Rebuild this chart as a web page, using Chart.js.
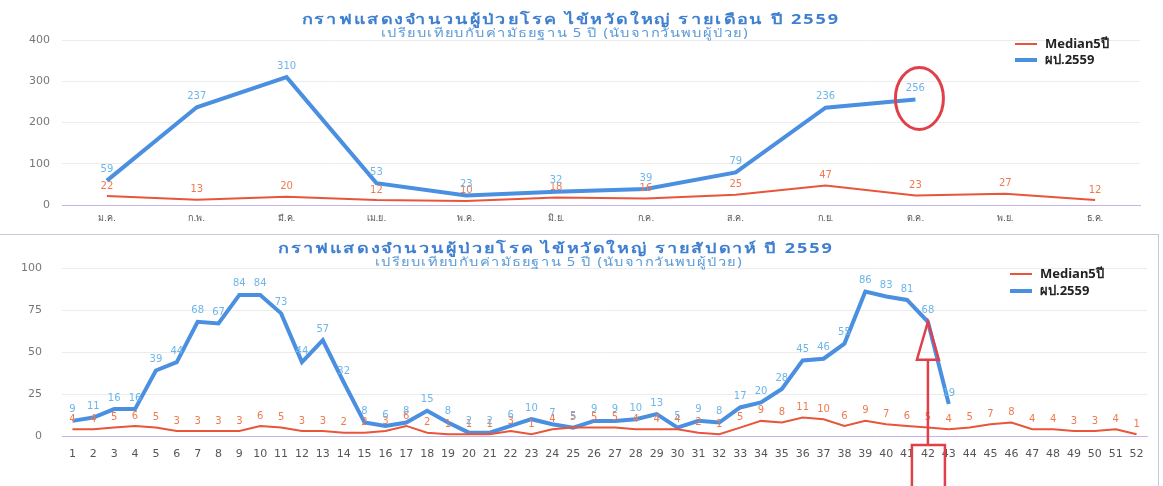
<!DOCTYPE html>
<html><head><meta charset="utf-8">
<script src="https://cdn.jsdelivr.net/npm/chart.js@4.4.1/dist/chart.umd.min.js"></script>
<style>
html,body{margin:0;padding:0;background:#fff;width:1163px;height:486px;overflow:hidden;font-family:"Noto Sans","DejaVu Sans",sans-serif;}
canvas{position:absolute;left:0;}
#c1{top:0;} #c2{top:232px;}
.title{position:absolute;text-align:center;color:#3f7fd0;font-weight:bold;font-size:14px;letter-spacing:1.5px;white-space:nowrap;transform:scaleX(1.29);}
.sub{position:absolute;text-align:center;color:#5a9ad8;font-size:12px;letter-spacing:1px;white-space:nowrap;transform:scaleX(1.22);}
.leg{position:absolute;font-size:13px;font-weight:bold;color:#222;white-space:nowrap;}
.leg span{display:inline-block;width:22px;vertical-align:middle;margin-right:8px;}
#frame{position:absolute;left:0;top:234px;width:1158px;height:260px;border-top:1px solid #c8c8d8;border-right:1px solid #c8c8d8;}
</style></head>
<body>
<div id="frame"></div>
<canvas id="c1" width="1163" height="232"></canvas>
<canvas id="c2" width="1163" height="254"></canvas>
<div class="title" style="left:0;width:1142px;top:8px;">กราฟแสดงจำนวนผู้ป่วยโรค ไข้หวัดใหญ่ รายเดือน ปี 2559</div>
<div class="sub" style="left:0;width:1130px;top:23px;">เปรียบเทียบกับค่ามัธยฐาน 5 ปี (นับจากวันพบผู้ป่วย)</div>
<div class="leg" style="left:1015px;top:33px;"><span style="border-top:2px solid #e8553a;"></span>Median5ปี</div>
<div class="leg" style="left:1015px;top:49px;"><span style="border-top:4px solid #4a8fe0;"></span>ผป.2559</div>
<div class="title" style="left:0;width:1112px;top:237px;">กราฟแสดงจำนวนผู้ป่วยโรค ไข้หวัดใหญ่ รายสัปดาห์ ปี 2559</div>
<div class="sub" style="left:0;width:1118px;top:252px;">เปรียบเทียบกับค่ามัธยฐาน 5 ปี (นับจากวันพบผู้ป่วย)</div>
<div class="leg" style="left:1010px;top:263px;"><span style="border-top:2px solid #e8553a;"></span>Median5ปี</div>
<div class="leg" style="left:1010px;top:280px;"><span style="border-top:4px solid #4a8fe0;"></span>ผป.2559</div>
<script>
// ---- data ----
const monthLabels = ['ม.ค.','ก.พ.','มี.ค.','เม.ย.','พ.ค.','มิ.ย.','ก.ค.','ส.ค.','ก.ย.','ต.ค.','พ.ย.','ธ.ค.'];
const medianMonthly = [22,13,20,12,10,18,16,25,47,23,27,12];
const casesMonthly = [59,237,310,53,23,32,39,79,236,256,null,null];
const monthTicks = [0,100,200,300,400];

const weekLabels = ['1','2','3','4','5','6','7','8','9','10','11','12','13','14','15','16','17','18','19','20','21','22','23','24','25','26','27','28','29','30','31','32','33','34','35','36','37','38','39','40','41','42','43','44','45','46','47','48','49','50','51','52'];
const medianWeekly = [4,4,5,6,5,3,3,3,3,6,5,3,3,2,2,3,6,2,1,1,1,3,1,4,5,5,5,4,4,4,2,1,5,9,8,11,10,6,9,7,6,5,4,5,7,8,4,4,3,3,4,1];
const casesWeekly = [9,11,16,16,39,44,68,67,84,84,73,44,57,32,8,6,8,15,8,2,2,6,10,7,5,9,9,10,13,5,9,8,17,20,28,45,46,55,86,83,81,68,19,null,null,null,null,null,null,null,null,null];
const weekTicks = [0,25,50,75,100];

const FONT = '"DejaVu Sans","Noto Sans",sans-serif';
const BLUE = '#4a8fe0', ORANGE = '#e8553a';

const valueLabels = {
  id:'valueLabels',
  afterDatasetsDraw(chart){
    const ctx = chart.ctx;
    chart.data.datasets.forEach((ds,i)=>{
      const meta = chart.getDatasetMeta(i);
      ctx.save();
      ctx.font = ds.labelFont; ctx.fillStyle = ds.labelColor;
      ctx.textAlign='center'; ctx.textBaseline='bottom';
      meta.data.forEach((pt,j)=>{
        const v = ds.data[j]; if(v==null) return;
        ctx.fillText(String(v), pt.x, pt.y - ds.labelOffset);
      });
      ctx.restore();
    });
  }
};

function makeChart(id, labels, median, cases, ticks, cfg){
  return new Chart(document.getElementById(id), {
    type:'line',
    data:{labels, datasets:[
      {label:'Median5ปี', data:median, borderColor:ORANGE, borderWidth:2, pointRadius:0, tension:0,
       labelColor:'#f07a4e', labelFont:'10px '+FONT, labelOffset:5},
      {label:'ผป.2559', data:cases, borderColor:BLUE, borderWidth:4, pointRadius:0, tension:0,
       labelColor:'#6db6ea', labelFont:'10px '+FONT, labelOffset:6}
    ]},
    options:{
      responsive:false, animation:false,
      layout:{padding:{top:cfg.top, right:cfg.right, left:0, bottom:0}},
      plugins:{legend:{display:false}, tooltip:{enabled:false}},
      scales:{
        x:{offset:true, grid:{display:false, drawTicks:false, offset:true}, border:{color:'#c4b4e4'},
           ticks:{color:'#555', font:{size:cfg.xFont, family:FONT}, padding:cfg.xPad, autoSkip:false, maxRotation:0},
           afterFit(s){ s.height = cfg.xh; }},
        y:{min:0, max:ticks[ticks.length-1], grid:{color:'#ececec', drawTicks:false}, border:{display:false},
           afterBuildTicks(s){ s.ticks = ticks.map(v=>({value:v})); },
           ticks:{color:'#777', font:{size:11, family:FONT}, padding:cfg.yPad},
           afterFit(s){ s.width = 62; }}
      }
    },
    plugins:[valueLabels, cfg.annot]
  });
}

const circleAnnot = {
  id:'circleAnnot',
  afterDatasetsDraw(chart){
    const pt = chart.getDatasetMeta(1).data[9];
    const ctx = chart.ctx; ctx.save();
    ctx.strokeStyle='#e0404a'; ctx.lineWidth=3;
    ctx.beginPath(); ctx.ellipse(pt.x+4, pt.y-1, 24, 31, 0, 0, Math.PI*2); ctx.stroke();
    ctx.restore();
  }
};
const arrowAnnot = {
  id:'arrowAnnot',
  afterDatasetsDraw(chart){
    const pt = chart.getDatasetMeta(1).data[41];
    const ctx = chart.ctx; ctx.save();
    ctx.strokeStyle='#e0404a'; ctx.lineWidth=2.5;
    const x = pt.x, bottom = chart.chartArea.bottom;
    const boxTop = bottom + 9;
    ctx.strokeRect(x-16, boxTop, 33, 60);
    ctx.beginPath(); ctx.moveTo(x, boxTop); ctx.lineTo(x, pt.y+38); ctx.stroke();
    ctx.beginPath(); ctx.moveTo(x, pt.y); ctx.lineTo(x-11, pt.y+38); ctx.lineTo(x+11, pt.y+38); ctx.closePath(); ctx.stroke();
    ctx.restore();
  }
};

makeChart('c1', monthLabels, medianMonthly, casesMonthly, monthTicks,
  {top:40, right:23, xh:27, xFont:9, xPad:8, yPad:12, annot:circleAnnot});
makeChart('c2', weekLabels, medianWeekly, casesWeekly, weekTicks,
  {top:36, right:16, xh:50, xFont:11, xPad:12, yPad:20, annot:arrowAnnot});
</script>
</body></html>
